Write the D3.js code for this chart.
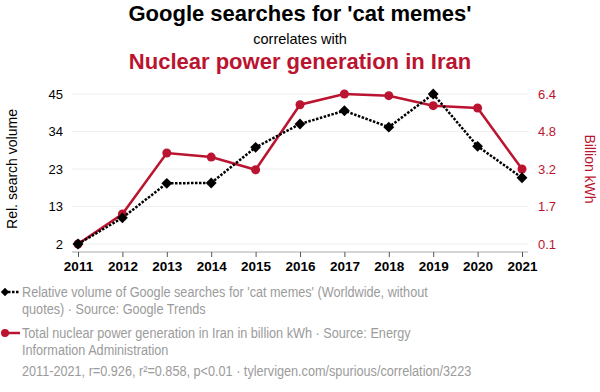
<!DOCTYPE html>
<html>
<head>
<meta charset="utf-8">
<script src="https://cdn.jsdelivr.net/npm/d3@7"></script>
<style>
  body { margin: 0; background: #fff; }
  text { font-family: "Liberation Sans", Arial, sans-serif; }
</style>
</head>
<body>
<div id="chart"></div>
<script>
const years = [2011, 2012, 2013, 2014, 2015, 2016, 2017, 2018, 2019, 2020, 2021];
const catMemes = [2, 9.5, 19.4, 19.5, 29.7, 36.4, 40.2, 35.5, 45, 30, 21];
const nuclear = [0.1, 1.36, 3.92, 3.75, 3.22, 5.95, 6.4, 6.33, 5.91, 5.81, 3.25];
const leftTicks = [2, 13, 23, 34, 45];
const rightTicks = ['0.1', '1.7', '3.2', '4.8', '6.4'];

const red = '#bb1430';
const grey = '#9b9b9b';
const W = 600, H = 392;
const margin = { top: 94, right: 72, bottom: 140, left: 72 };
const width = W - margin.left - margin.right;
const height = H - margin.top - margin.bottom;   // 158
const plotH = 150;

const svg = d3.select('#chart')
  .append('svg')
  .attr('width', W)
  .attr('height', H);

// titles
svg.append('text').attr('x', 300).attr('y', 21).attr('text-anchor', 'middle')
  .style('font-size', '22px').style('font-weight', 'bold').attr('fill', '#000')
  .text("Google searches for 'cat memes'");
svg.append('text').attr('x', 300).attr('y', 44).attr('text-anchor', 'middle')
  .style('font-size', '14.5px').attr('fill', '#000')
  .text('correlates with');
svg.append('text').attr('x', 300).attr('y', 69).attr('text-anchor', 'middle')
  .style('font-size', '22px').style('font-weight', 'bold').attr('fill', red)
  .text('Nuclear power generation in Iran');

const g = svg.append('g').attr('transform', `translate(${margin.left},${margin.top})`);

const x = d3.scaleLinear().domain([2011, 2021]).range([6, width - 6]);
const yL = d3.scaleLinear().domain([2, 45]).range([plotH, 0]);
const yR = d3.scaleLinear().domain([0.1, 6.4]).range([plotH, 0]);

const leftPos = d3.range(5).map(i => 2 + i * (45 - 2) / 4);
const rightPos = d3.range(5).map(i => 0.1 + i * (6.4 - 0.1) / 4);

// gridlines
g.append('g').selectAll('line').data(leftPos).join('line')
  .attr('x1', 0).attr('x2', width)
  .attr('y1', d => yL(d)).attr('y2', d => yL(d))
  .attr('stroke', '#eeeeee').attr('stroke-width', 1);

// left axis
const axL = g.append('g')
  .call(d3.axisLeft(yL).tickValues(leftPos).tickSize(0).tickPadding(9)
    .tickFormat((d, i) => leftTicks[i]));
axL.select('.domain').remove();
axL.selectAll('text').style('font-size', '13px').attr('fill', '#000')
  .style('font-family', '"Liberation Sans", Arial, sans-serif');

// right axis
const axR = g.append('g').attr('transform', `translate(${width},0)`)
  .call(d3.axisRight(yR).tickValues(rightPos).tickSize(0).tickPadding(10)
    .tickFormat((d, i) => rightTicks[i]));
axR.select('.domain').remove();
axR.selectAll('text').style('font-size', '13px').attr('fill', red)
  .style('font-family', '"Liberation Sans", Arial, sans-serif');

// bottom axis
const axB = g.append('g').attr('transform', `translate(0,${height})`)
  .call(d3.axisBottom(x).tickValues(years).tickSize(5).tickPadding(4)
    .tickFormat(d3.format('d')));
axB.select('.domain').attr('d', `M0,0H${width}`).attr('stroke', '#aaa');
axB.selectAll('.tick line').attr('stroke', '#555');
axB.selectAll('text').style('font-size', '13.5px').style('font-weight', 'bold').attr('fill', '#000')
  .style('font-family', '"Liberation Sans", Arial, sans-serif');

// axis titles
svg.append('text')
  .attr('transform', `translate(17,${margin.top + plotH / 2}) rotate(-90)`)
  .attr('text-anchor', 'middle').style('font-size', '14px').attr('fill', '#000')
  .text('Rel. search volume');
svg.append('text')
  .attr('transform', `translate(585,${margin.top + plotH / 2}) rotate(90)`)
  .attr('text-anchor', 'middle').style('font-size', '14px').attr('fill', red)
  .text('Billion kWh');

// red series
const lineR = d3.line().x((d, i) => x(years[i])).y(d => yR(d));
g.append('path').datum(nuclear).attr('d', lineR)
  .attr('fill', 'none').attr('stroke', red).attr('stroke-width', 2.5);
g.selectAll('.dotR').data(nuclear).join('circle').attr('class', 'dotR')
  .attr('cx', (d, i) => x(years[i])).attr('cy', d => yR(d)).attr('r', 4.5)
  .attr('fill', red);

// black series
const lineL = d3.line().x((d, i) => x(years[i])).y(d => yL(d));
g.append('path').datum(catMemes).attr('d', lineL)
  .attr('fill', 'none').attr('stroke', '#000').attr('stroke-width', 2.5)
  .attr('stroke-dasharray', '2.5,1.5');
const diamond = d3.symbol().type(d3.symbolDiamond2).size(75);
g.selectAll('.dotL').data(catMemes).join('path').attr('class', 'dotL')
  .attr('d', diamond)
  .attr('transform', (d, i) => `translate(${x(years[i])},${yL(d)})`)
  .attr('fill', '#000');

// legend
const lg = svg.append('g');
lg.append('line').attr('x1', 4).attr('x2', 20).attr('y1', 292).attr('y2', 292)
  .attr('stroke', '#000').attr('stroke-width', 2.5).attr('stroke-dasharray', '2.5,1.5');
lg.append('path').attr('d', d3.symbol().type(d3.symbolDiamond2).size(45))
  .attr('transform', 'translate(5,292)').attr('fill', '#000');
lg.append('line').attr('x1', 4).attr('x2', 20).attr('y1', 333).attr('y2', 333)
  .attr('stroke', red).attr('stroke-width', 2.5);
lg.append('circle').attr('cx', 5).attr('cy', 333).attr('r', 4).attr('fill', red);

const legendLines = [
  ["Relative volume of Google searches for 'cat memes' (Worldwide, without", 297],
  ['quotes) · Source: Google Trends', 314],
  ['Total nuclear power generation in Iran in billion kWh · Source: Energy', 338],
  ['Information Administration', 355],
  ['2011-2021, r=0.926, r²=0.858, p<0.01 · tylervigen.com/spurious/correlation/3223', 376]
];
const lt = lg.append('g').attr('transform', 'translate(22,0) scale(0.905,1)');
lt.selectAll('.lt').data(legendLines).join('text').attr('class', 'lt')
  .attr('x', 0).attr('y', d => d[1]).style('font-size', '14px').attr('fill', grey)
  .text(d => d[0]);
</script>
</body>
</html>
